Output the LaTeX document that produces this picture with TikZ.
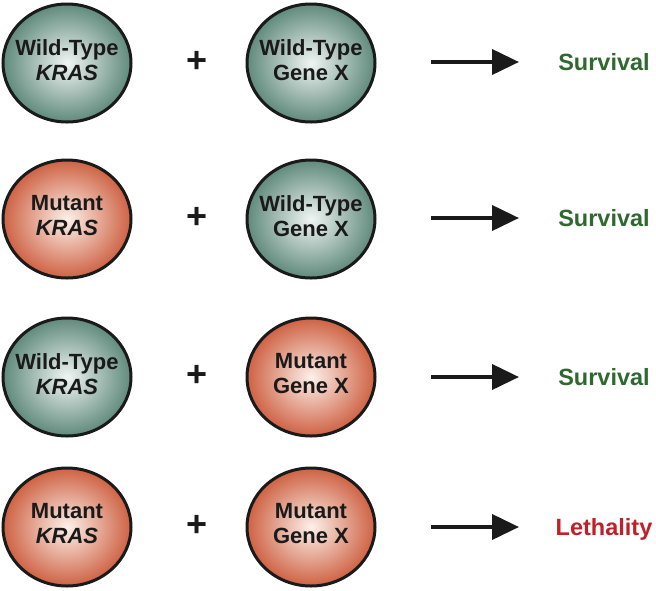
\documentclass[tikz,border=0pt]{standalone}
\usepackage{fontspec}
\setmainfont{Liberation Sans}
\usetikzlibrary{shapes.geometric,arrows.meta}
\definecolor{wtout}{RGB}{96,138,124}
\definecolor{wtin}{RGB}{240,245,243}
\definecolor{mtout}{RGB}{206,98,68}
\definecolor{mtin}{RGB}{253,240,233}
\definecolor{survgreen}{RGB}{48,105,48}
\definecolor{lethred}{RGB}{192,32,40}
\definecolor{ink}{RGB}{26,26,26}
\tikzset{
 gene/.style={ellipse, minimum width=128pt, minimum height=118pt, inner sep=0pt, draw=ink, line width=3pt},
 wt/.style={gene, inner color=wtin, outer color=wtout},
 mt/.style={gene, inner color=mtin, outer color=mtout},
 genetext/.style={align=center, inner sep=0pt, yshift=3pt, font=\fontsize{22}{25}\selectfont\bfseries, text=ink},
 plussign/.style={font=\fontsize{36}{36}\selectfont\bfseries, text=ink, inner sep=0pt},
 arr/.style={draw=ink, line width=4pt, -{Triangle[length=27pt,width=25pt]}},
 res/.style={font=\fontsize{23.5}{28}\selectfont\bfseries, inner sep=0pt, anchor=base},
}
\begin{document}
\begin{tikzpicture}[x=1pt,y=-1pt]
\useasboundingbox (0,0) rectangle (656,590);
% row 1
\node[wt] (k1) at (67,63) {};
\node[genetext] (k1t) at (k1) {Wild-Type\\\textit{KRAS}};
\node[plussign] (p1) at (197,62) {+};
\node[wt] (g1) at (311,63) {};
\node[genetext] (g1t) at (g1) {Wild-Type\\Gene X};
\coordinate (a1) at (431,62);
\coordinate (b1) at (519,62);
\draw[arr] (a1) -- (b1);
\node[res, text=survgreen] (r1) at (604,70) {Survival};
% row 2
\node[mt] (k2) at (67,219) {};
\node[genetext] (k2t) at (k2) {Mutant\\\textit{KRAS}};
\node[plussign] (p2) at (197,218) {+};
\node[wt] (g2) at (311,219) {};
\node[genetext] (g2t) at (g2) {Wild-Type\\Gene X};
\coordinate (a2) at (431,218);
\coordinate (b2) at (519,218);
\draw[arr] (a2) -- (b2);
\node[res, text=survgreen] (r2) at (604,226) {Survival};
% row 3
\node[wt] (k3) at (67,377) {};
\node[genetext] (k3t) at (k3) {Wild-Type\\\textit{KRAS}};
\node[plussign] (p3) at (197,376) {+};
\node[mt] (g3) at (311,377) {};
\node[genetext] (g3t) at (g3) {Mutant\\Gene X};
\coordinate (a3) at (431,377);
\coordinate (b3) at (519,377);
\draw[arr] (a3) -- (b3);
\node[res, text=survgreen] (r3) at (604,385) {Survival};
% row 4
\node[mt] (k4) at (67,527) {};
\node[genetext] (k4t) at (k4) {Mutant\\\textit{KRAS}};
\node[plussign] (p4) at (197,526) {+};
\node[mt] (g4) at (311,527) {};
\node[genetext] (g4t) at (g4) {Mutant\\Gene X};
\coordinate (a4) at (431,527);
\coordinate (b4) at (519,527);
\draw[arr] (a4) -- (b4);
\node[res, text=lethred] (r4) at (604,535) {Lethality};
\end{tikzpicture}
\end{document}
